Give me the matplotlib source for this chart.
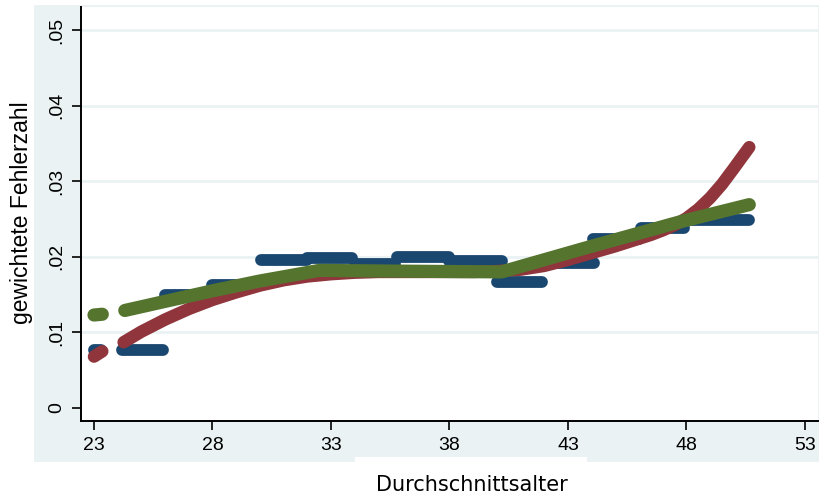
import numpy as np
import matplotlib
matplotlib.use('Agg')
import matplotlib.pyplot as plt
from matplotlib.patches import Rectangle

# blue: observed values, drawn as flat steps (start, end, value)
blue_x0 = [23.0, 24.2, 26.0, 28.0, 30.05, 32.0, 34.0, 35.8, 38.0, 40.0, 42.0, 44.05, 46.1, 48.0]
blue_x1 = [23.3, 25.9, 27.9, 29.9, 32.0, 33.9, 35.7, 38.0, 40.2, 41.9, 44.1, 46.0, 47.9, 50.65]
blue_y = [0.0077, 0.0077, 0.0149, 0.0163, 0.0196, 0.0198, 0.0191, 0.0200, 0.0194,
          0.0167, 0.0192, 0.0224, 0.0238, 0.0249]

# red: smooth fit, two pieces (gap between 23.35 and 24.25)
red_x_a = [23.0, 23.35]
red_y_a = [0.0068, 0.0075]
red_x_b = [24.25, 25, 26, 27, 28, 29, 30, 31, 32, 33, 34, 35, 36, 37, 38, 39, 40,
           41, 42, 43, 44, 45, 46, 46.5, 47, 47.5, 48, 48.5, 49, 49.5, 50, 50.3, 50.65]
red_y_b = [0.0087, 0.0101, 0.0117, 0.0131, 0.0143, 0.0153, 0.0162, 0.0169, 0.0174,
           0.0177, 0.0179, 0.0180, 0.0180, 0.0180, 0.0180, 0.0180, 0.0181,
           0.0183, 0.0188, 0.0196, 0.0205, 0.0214, 0.0224, 0.0229, 0.0235, 0.0242,
           0.0251, 0.0263, 0.0278, 0.0296, 0.0317, 0.0330, 0.0345]

# green: piecewise fit
green_x_a = [23.0, 23.35]
green_y_a = [0.0123, 0.0124]
green_x_b = [24.3, 26, 28, 30, 32.5, 36, 40.2, 44, 47.7, 50.65]
green_y_b = [0.0129, 0.0141, 0.0155, 0.0168, 0.0182, 0.0181, 0.0180, 0.0214, 0.0246, 0.0269]

xticks = [23, 28, 33, 38, 43, 48, 53]
yticks = [0, 0.01, 0.02, 0.03, 0.04, 0.05]
ylabels = ['0', '.01', '.02', '.03', '.04', '.05']

navy = '#1a476f'
maroon = '#90353b'
fgreen = '#55752f'
bg = '#eaf2f3'

W, H = 820, 500
fig = plt.figure(figsize=(8.2, 5), dpi=100)
fig.patch.set_facecolor('white')

# outer graph region (light grey-blue), with the white notch under the x title
fig.patches.append(Rectangle((34 / W, 1 - 462 / H), (W - 34) / W, (462 - 5) / H,
                             transform=fig.transFigure, facecolor=bg, edgecolor='none', zorder=-10))
fig.patches.append(Rectangle((355 / W, 1 - 462 / H), (587 - 355) / W, 5 / H,
                             transform=fig.transFigure, facecolor='white', edgecolor='none', zorder=-9))

ax = fig.add_axes([81 / W, 1 - 421 / H, 737 / W, 414 / H])
ax.set_facecolor('white')
ax.set_xlim(22.452, 53.55)
ax.set_ylim(-0.00172, 0.05304)

for yt in yticks[1:]:
    ax.axhline(yt, color=bg, lw=2, zorder=1)

for x0, x1, y in zip(blue_x0, blue_x1, blue_y):
    ax.plot([x0, x1], [y, y], color=navy, lw=8.5, solid_capstyle='round', zorder=2)

for xs, ys in [(red_x_a, red_y_a), (red_x_b, red_y_b)]:
    ax.plot(xs, ys, color=maroon, lw=9, solid_capstyle='round',
            solid_joinstyle='round', zorder=3)

for xs, ys in [(green_x_a, green_y_a), (green_x_b, green_y_b)]:
    ax.plot(xs, ys, color=fgreen, lw=9.5, solid_capstyle='round',
            solid_joinstyle='round', zorder=4)

for side in ['top', 'right']:
    ax.spines[side].set_visible(False)
for side in ['left', 'bottom']:
    ax.spines[side].set_linewidth(1.4)
    ax.spines[side].set_color('black')

ax.set_xticks(xticks)
ax.set_yticks(yticks)
ax.set_yticklabels(ylabels)
ax.tick_params(direction='out', length=6.5, width=1.2, colors='black', labelsize=14, pad=5)
for lab in ax.get_xticklabels() + ax.get_yticklabels():
    lab.set_family('Liberation Sans')
for lab in ax.get_yticklabels():
    lab.set_rotation(90)
    lab.set_va('center')
    lab.set_ha('right')

fig.text(22 / W, 1 - 213 / H, 'gewichtete Fehlerzahl', rotation=90, ha='center', va='center',
         fontsize=16.5, family='Liberation Sans')
fig.text(472 / W, 1 - 485 / H, 'Durchschnittsalter', ha='center', va='center',
         fontsize=15, family='DejaVu Sans')

fig.savefig('out.png', dpi=100)
